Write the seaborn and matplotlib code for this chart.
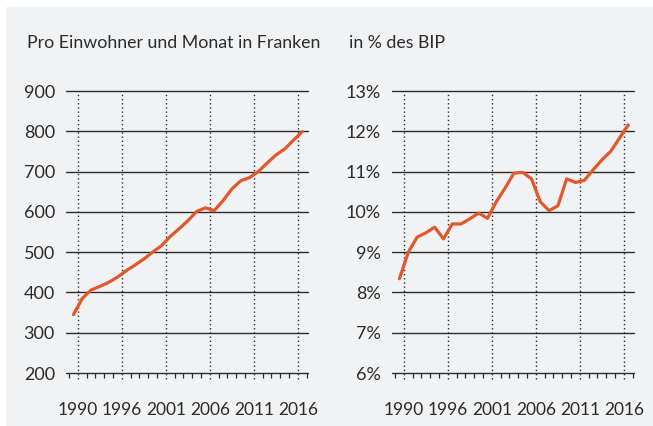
import numpy as np
import pandas as pd
import seaborn as sns
import matplotlib.pyplot as plt
from matplotlib.patches import Rectangle

sns.set_theme(style="white")
plt.rcParams['font.family'] = ['Lato', 'DejaVu Sans']

years = list(range(1990, 2017))
franken = [345, 385, 406, 415, 425, 438, 454, 468, 483, 500,
           516, 539, 558, 578, 601, 610, 603, 628, 657, 677,
           685, 700, 721, 741, 756, 778, 799]
bip = [8.34, 9.00, 9.37, 9.48, 9.62, 9.33, 9.70, 9.70, 9.83, 9.97,
       9.84, 10.25, 10.59, 10.96, 10.98, 10.82, 10.25, 10.03, 10.15, 10.82,
       10.73, 10.78, 11.04, 11.29, 11.50, 11.83, 12.16]
label_pos = [1990.5, 1995.5, 2000.5, 2005.5, 2010.5, 2015.5]
label_txt = ["1990", "1996", "2001", "2006", "2011", "2016"]

df = pd.DataFrame({"Jahr": years, "Franken": franken, "BIP": bip})

bg = "#f1f2f4"
orange = "#e0582c"
dark = "#2b2b2b"

fig = plt.figure(figsize=(6.53, 4.26), dpi=100)
fig.patch.set_facecolor("white")
fig.patches.append(Rectangle((6 / 653, 0), 1, 1 - 7 / 426, transform=fig.transFigure,
                             facecolor=bg, edgecolor="none", zorder=-10))

ax1 = fig.add_axes([66 / 653, 53 / 426, 242 / 653, 282 / 426])
ax2 = fig.add_axes([392 / 653, 53 / 426, 242 / 653, 282 / 426])

for ax, col, lim, step in [(ax1, "Franken", (200, 900), 100), (ax2, "BIP", (6, 13), 1)]:
    ax.set_facecolor(bg)
    for s in ax.spines.values():
        s.set_visible(False)
    ax.set_xlim(1989.15, 2016.65)
    ax.set_ylim(*lim)
    yt = np.arange(lim[0], lim[1] + step / 2, step)
    for y in yt:
        ax.axhline(y, color=dark, lw=1.0, zorder=1, clip_on=False)
    for x in label_pos:
        ax.axvline(x, ymin=-0.022, ymax=1, color=dark, lw=1.0, ls=(0, (1, 2)),
                   clip_on=False, zorder=1)
    sns.lineplot(data=df, x="Jahr", y=col, ax=ax, color=orange, lw=2.3, zorder=3)
    ax.set_yticks(yt)
    ax.set_xticks(label_pos)
    ax.set_xticklabels(label_txt)
    ax.set_xticks(np.arange(1989.5, 2017, 1), minor=True)
    ax.tick_params(axis="x", which="both", bottom=True)
    ax.tick_params(axis="x", which="minor", length=3.5, width=0.9, color=dark, direction="out")
    ax.tick_params(axis="x", which="major", length=0, pad=21, labelsize=12.5, labelcolor=dark)
    ax.tick_params(axis="y", length=0, pad=8, labelsize=13, labelcolor=dark)
    ax.set_xlabel("")
    ax.set_ylabel("")

ax1.set_yticklabels([str(int(v)) for v in np.arange(200, 901, 100)])
ax2.set_yticklabels([f"{int(v)}%" for v in np.arange(6, 14, 1)])

fig.text(27 / 653, 1 - 43 / 426, "Pro Einwohner und Monat in Franken", fontsize=12.8,
         color=dark, va="center", ha="left")
fig.text(349 / 653, 1 - 43 / 426, "in % des BIP", fontsize=12.8,
         color=dark, va="center", ha="left")

plt.savefig("out.png", dpi=100)
